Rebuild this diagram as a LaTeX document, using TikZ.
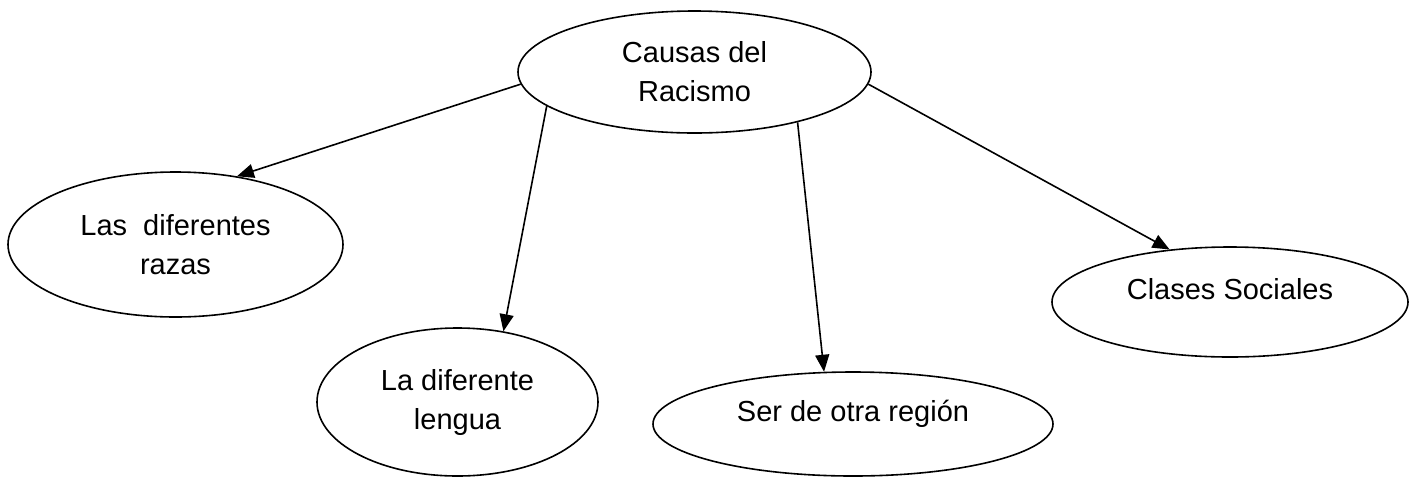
\documentclass[tikz,border=0pt]{standalone}
\usepackage{fontspec}
\setmainfont{Liberation Sans}
\usetikzlibrary{shapes.geometric,arrows.meta}

\begin{document}
\begin{tikzpicture}[x=0.5pt,y=-0.5pt,
    causa/.style={draw,ellipse,line width=0.8pt,align=center,inner sep=0pt,
        font=\fontsize{14.5}{19.5}\selectfont},
    unalinea/.style={text height=10pt,text depth=13pt},
    flecha/.style={-{Triangle[length=8.5pt,width=7pt]},line width=0.8pt}]
        \useasboundingbox (0,0) rectangle (1420,478);

        \node[causa,minimum width=176.5pt,minimum height=61pt] at (694.5,72)(racismo){Causas del\\Racismo};
        \node[causa,minimum width=167.5pt,minimum height=72.5pt] at (175.5,244.5)(razas){Las\ \ diferentes\\razas};
        \node[causa,minimum width=140.5pt,minimum height=74pt] at (457.5,402)(lengua){La diferente\\lengua};
        \node[causa,unalinea,minimum width=200pt,minimum height=52pt] at (853,424)(region){Ser de otra región};
        \node[causa,unalinea,minimum width=178pt,minimum height=55pt] at (1230,302)(clases){Clases Sociales};

        \path[flecha]
        (racismo.184)edge (razas.48)
        (racismo.193)edge (lengua.57)
        (racismo.334)edge (region.119)
        (racismo.356)edge (clases.139)
        ;
\end{tikzpicture}
\end{document}
